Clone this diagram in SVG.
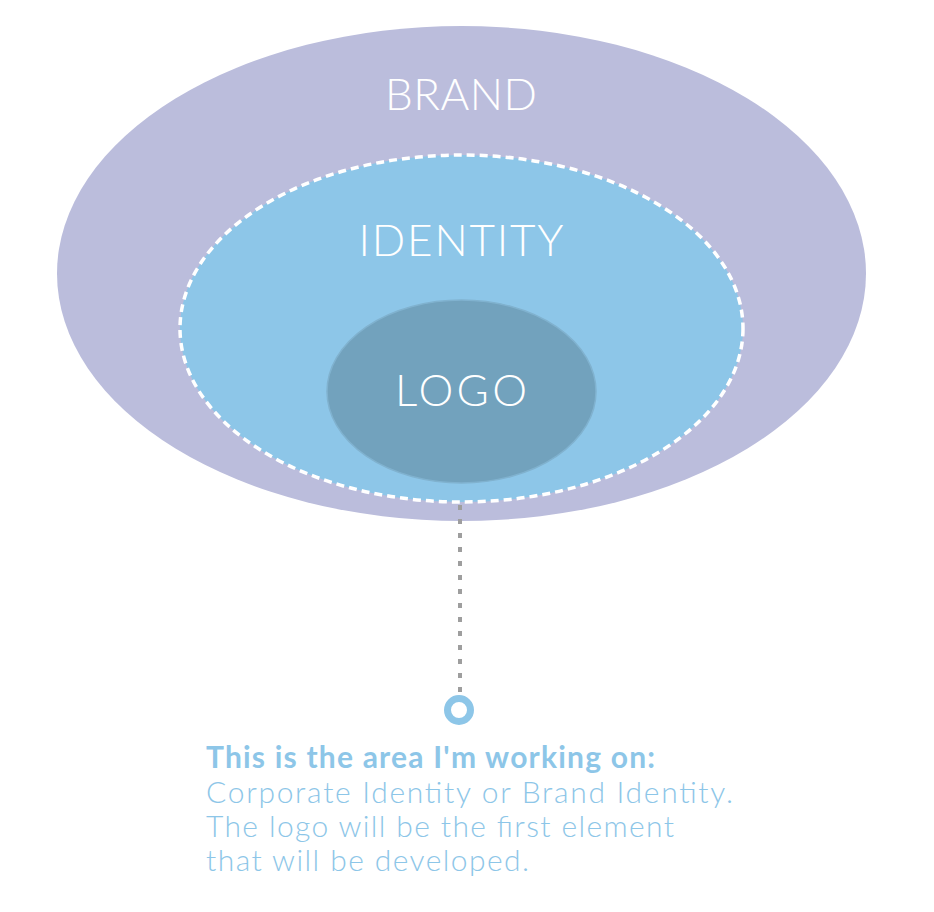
<svg xmlns="http://www.w3.org/2000/svg" width="934" height="912" viewBox="0 0 934 912">
<style>
.lbl{font-family:Lato,"Noto Sans","Liberation Sans",sans-serif;font-weight:300;font-size:44px;fill:#ffffff;text-anchor:middle}
.note{font-family:Lato,"Noto Sans","Liberation Sans",sans-serif;font-size:30px;font-weight:300;fill:#8DC6E8}
.note.b{font-weight:700}
</style>
<rect width="934" height="912" fill="#ffffff"/>
<g id="brand">
<ellipse cx="461.5" cy="273.5" rx="404.5" ry="247.5" fill="#BBBDDC"/>
<text class="lbl" x="461" y="110" textLength="152">BRAND</text>
</g>
<g id="identity">
<ellipse cx="461.5" cy="328.5" rx="281.5" ry="173.5" fill="#8DC6E8" stroke="#ffffff" stroke-width="3.5" stroke-dasharray="8 5"/>
<text class="lbl" x="461" y="256" textLength="205">IDENTITY</text>
</g>
<g id="logo">
<ellipse cx="461.5" cy="391.5" rx="134.5" ry="91.5" fill="#72A2BD" stroke="#80B2CF" stroke-width="1.5"/>
<text class="lbl" x="461" y="406" textLength="132">LOGO</text>
</g>
<g id="connectors">
<line x1="460" y1="505" x2="460" y2="696" stroke="#9E9E9E" stroke-width="4" stroke-dasharray="5 9"/>
</g>
<g id="marker">
<circle cx="459" cy="710" r="11.5" fill="#ffffff" stroke="#8DC6E8" stroke-width="7"/>
</g>
<g id="note">
<text class="note b" x="206" y="768" textLength="449">This is the area I'm working on:</text>
<text class="note" x="206" y="803" textLength="527">Corporate Identity or Brand Identity.</text>
<text class="note" x="206" y="837" textLength="468">The logo will be the first element</text>
<text class="note" x="206" y="871" textLength="323">that will be developed.</text>
</g>
</svg>
